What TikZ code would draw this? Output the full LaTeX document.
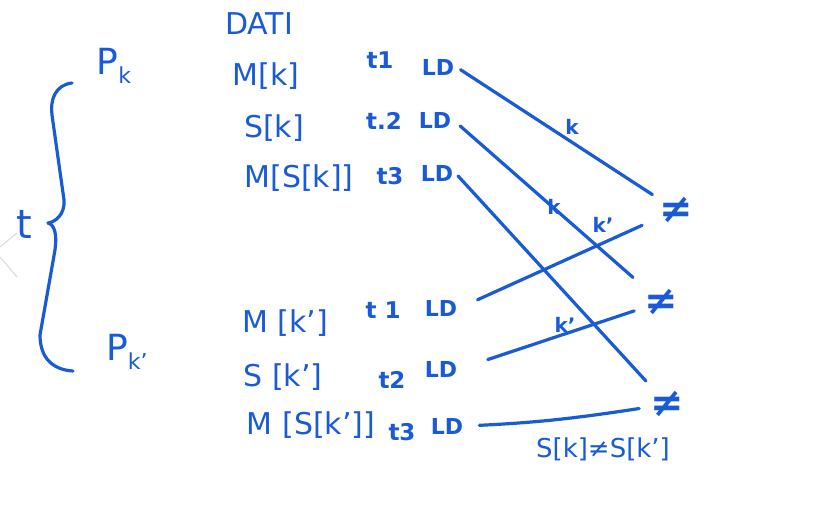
\documentclass[tikz,border=0pt]{standalone}
\usepackage{fontspec}
\setmainfont{DejaVu Sans}
\definecolor{ink}{RGB}{25,90,215}
\begin{document}
\begin{tikzpicture}[x=1pt,y=1pt,
  every node/.style={text=ink, inner sep=2pt},
  lbl/.style={font=\fontsize{30}{30}\selectfont},
  tlab/.style={font=\bfseries\fontsize{23}{23}\selectfont},
  ld/.style={font=\bfseries\fontsize{22}{22}\selectfont},
  neq/.style={circle, minimum size=56pt, inner sep=0pt, font=\bfseries\fontsize{40}{40}\selectfont},
  el/.style={font=\bfseries\fontsize{20}{20}\selectfont},
  wire/.style={draw=ink, line width=3.2pt, line cap=round, line join=round}]
\useasboundingbox (0,0) rectangle (822,-529);

% faint scan mark
\draw[gray!35, line width=0.8pt] (17,-233) -- (0,-247);
\draw[gray!35, line width=0.8pt] (0,-257) -- (17,-277);

% brace and left labels
\draw[wire] (72,-83) .. controls (55,-85) and (50,-100) .. (52,-115)
  -- (64,-200) .. controls (65,-215) and (55,-222) .. (48,-223)
  .. controls (55,-225) and (57,-235) .. (55,-250)
  -- (40,-335) .. controls (40,-360) and (55,-370) .. (73,-371);
\node[font=\fontsize{40}{40}\selectfont] (t) at (24,-224) {t};
\node[font=\fontsize{36}{36}\selectfont] (pk) at (114,-66) {P\raisebox{-9pt}{\fontsize{22}{22}\selectfont k}};
\node[font=\fontsize{36}{36}\selectfont] (pk2) at (127,-352) {P\raisebox{-9pt}{\fontsize{22}{22}\selectfont k'}};

% top block
\node[lbl] (dati) at (259,-24) {DATI};
\node[lbl] (m1) at (266,-76) {M[k]};
\node[lbl] (s1) at (274,-128) {S[k]};
\node[lbl] (ms1) at (299,-178) {M[S[k]]};
\node[tlab] (t11) at (380,-60) {t1};
\node[tlab] (t12) at (384,-121) {t.2};
\node[tlab] (t13) at (390,-176) {t3};
\node[ld] (a1) at (438,-67) {LD};
\node[ld] (a2) at (435,-120) {LD};
\node[ld] (a3) at (437,-173) {LD};

% bottom block
\node[lbl] (m2) at (285,-323) {M [k']};
\node[lbl] (s2) at (283,-377) {S [k']};
\node[lbl] (ms2) at (311,-425) {M [S[k']]};
\node[tlab] (t21) at (383,-310) {t 1};
\node[tlab] (t22) at (392,-380) {t2};
\node[tlab] (t23) at (402,-432) {t3};
\node[ld] (b1) at (441,-308) {LD};
\node[ld] (b2) at (441,-369) {LD};
\node[ld] (b3) at (447,-426) {LD};

% not-equal marks
\node[neq] (n1) at (676,-210) {≠};
\node[neq] (n2) at (661,-302) {≠};
\node[neq] (n3) at (667,-404) {≠};
\node[font=\fontsize{26}{26}\selectfont] (cond) at (603,-449) {S[k]≠S[k']};

% connectors
\draw[wire, shorten <=5pt] (a1.east) -- (n1);
\draw[wire, shorten <=9pt, shorten >=9pt] (a2.east) -- (n2);
\draw[wire, shorten <=4pt, shorten >=3pt] (a3.east) -- (n3);
\draw[wire, shorten <=20pt, shorten >=9pt] (b1.east) -- (n1);
\draw[wire, shorten <=30pt] (b2.east) -- (n2);
\draw[wire, shorten <=14pt] (b3.east) to[bend right=3] (n3);

% connector labels
\node[el] (k1) at (572,-127) {k};
\node[el] (k2) at (554,-207) {k};
\node[el] (k3) at (603,-225) {k'};
\node[el] (k4) at (565,-325) {k'};
\end{tikzpicture}
\end{document}
